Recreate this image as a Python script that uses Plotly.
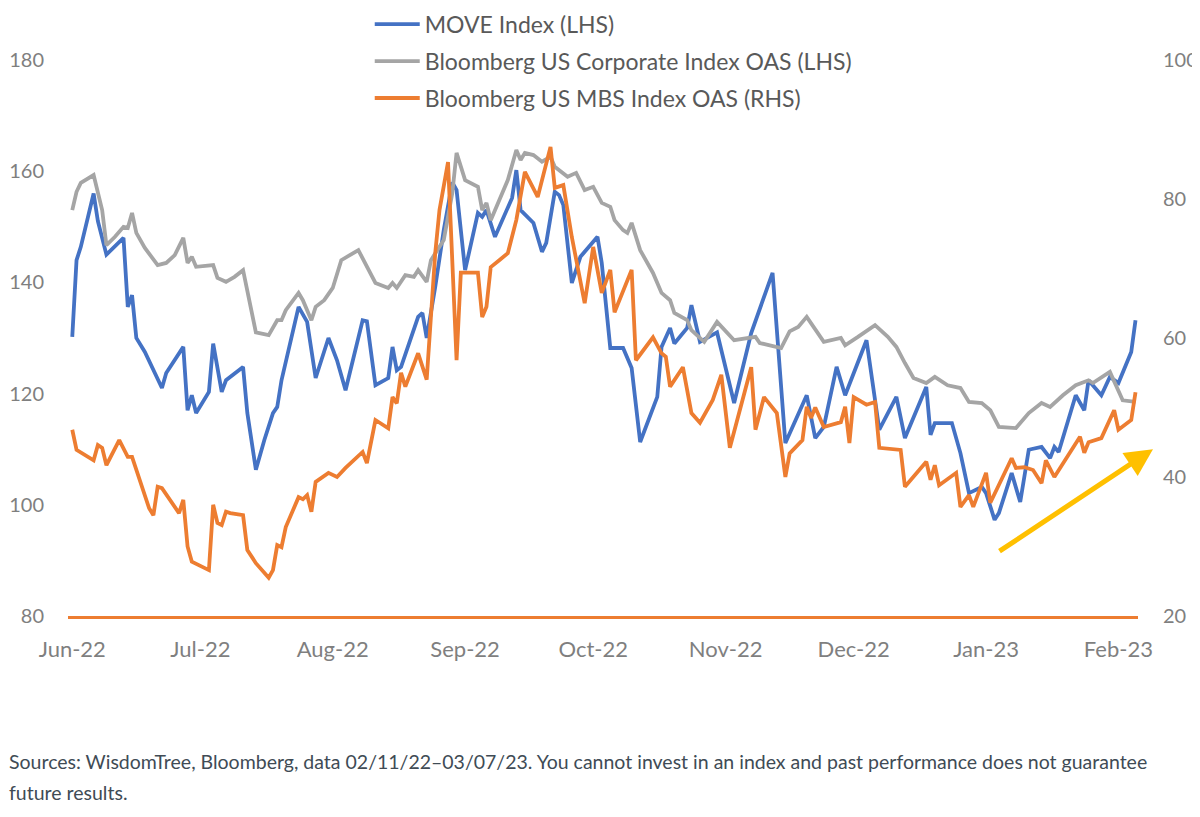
import plotly.graph_objects as go

move_dates = [
    "2022-06-01", "2022-06-02", "2022-06-03", "2022-06-06", "2022-06-07", "2022-06-09",
    "2022-06-13", "2022-06-14", "2022-06-15", "2022-06-16", "2022-06-18", "2022-06-22",
    "2022-06-23", "2022-06-27", "2022-06-28", "2022-06-29", "2022-06-30", "2022-07-03",
    "2022-07-04", "2022-07-06", "2022-07-07", "2022-07-11", "2022-07-12", "2022-07-14",
    "2022-07-16", "2022-07-18", "2022-07-19", "2022-07-20", "2022-07-24", "2022-07-26",
    "2022-07-28", "2022-07-31", "2022-08-02", "2022-08-04", "2022-08-08", "2022-08-09",
    "2022-08-11", "2022-08-14", "2022-08-15", "2022-08-16", "2022-08-17", "2022-08-21",
    "2022-08-22", "2022-08-23", "2022-08-25", "2022-08-27", "2022-08-29", "2022-08-30",
    "2022-09-01", "2022-09-04", "2022-09-05", "2022-09-06", "2022-09-08", "2022-09-12",
    "2022-09-13", "2022-09-14", "2022-09-17", "2022-09-19", "2022-09-20", "2022-09-22",
    "2022-09-23", "2022-09-24", "2022-09-26", "2022-09-28", "2022-10-02", "2022-10-03",
    "2022-10-05", "2022-10-08", "2022-10-10", "2022-10-12", "2022-10-16", "2022-10-17",
    "2022-10-19", "2022-10-20", "2022-10-23", "2022-10-24", "2022-10-26", "2022-10-30",
    "2022-11-03", "2022-11-07", "2022-11-12", "2022-11-15", "2022-11-20", "2022-11-22",
    "2022-11-24", "2022-11-27", "2022-11-29", "2022-12-04", "2022-12-07", "2022-12-11",
    "2022-12-13", "2022-12-18", "2022-12-19", "2022-12-20", "2022-12-24", "2022-12-26",
    "2022-12-28", "2022-12-31", "2023-01-01", "2023-01-03", "2023-01-04", "2023-01-07",
    "2023-01-09", "2023-01-11", "2023-01-14", "2023-01-16", "2023-01-17", "2023-01-18",
    "2023-01-22", "2023-01-24", "2023-01-25", "2023-01-28", "2023-01-30", "2023-02-01",
    "2023-02-04", "2023-02-05",
]
move_index = [
    130.2, 144.0, 146.4, 156.0, 151.0, 145.0,
    148.0, 135.6, 137.7, 130.0, 127.5, 121.0,
    123.7, 128.4, 117.0, 119.7, 116.5, 120.3,
    129.0, 120.3, 122.4, 124.8, 116.5, 106.3,
    111.7, 116.5, 117.6, 122.4, 135.6, 132.9,
    122.8, 130.0, 126.0, 120.6, 133.2, 133.0,
    121.5, 122.8, 128.4, 124.2, 124.8, 133.8,
    134.5, 130.0, 139.2, 149.4, 158.0, 156.6,
    142.2, 152.5, 151.8, 153.0, 148.2, 155.2,
    160.2, 153.0, 150.7, 145.5, 147.1, 156.3,
    155.7, 153.9, 139.9, 144.6, 148.2, 143.5,
    128.2, 128.2, 124.6, 111.3, 119.4, 128.4,
    131.8, 129.0, 131.8, 135.9, 129.3, 131.0,
    118.3, 130.9, 141.7, 111.1, 119.7, 112.0,
    114.0, 124.8, 119.7, 129.6, 113.5, 119.4,
    112.0, 121.2, 112.6, 114.7, 114.7, 109.3,
    102.1, 103.2, 102.1, 97.3, 98.5, 105.7,
    100.5, 109.9, 110.4, 108.4, 110.4, 109.5,
    119.7, 117.0, 122.4, 119.7, 123.0, 121.9,
    127.5, 133.2,
]

corp_dates = [
    "2022-06-01", "2022-06-02", "2022-06-03", "2022-06-06", "2022-06-08", "2022-06-09",
    "2022-06-11", "2022-06-13", "2022-06-14", "2022-06-15", "2022-06-16", "2022-06-18",
    "2022-06-21", "2022-06-23", "2022-06-25", "2022-06-27", "2022-06-28", "2022-06-29",
    "2022-06-30", "2022-07-04", "2022-07-05", "2022-07-07", "2022-07-09", "2022-07-11",
    "2022-07-14", "2022-07-17", "2022-07-19", "2022-07-20", "2022-07-21", "2022-07-24",
    "2022-07-25", "2022-07-27", "2022-07-28", "2022-07-30", "2022-08-01", "2022-08-03",
    "2022-08-05", "2022-08-07", "2022-08-11", "2022-08-14", "2022-08-15", "2022-08-16",
    "2022-08-18", "2022-08-20", "2022-08-21", "2022-08-23", "2022-08-24", "2022-08-27",
    "2022-08-29", "2022-08-30", "2022-09-01", "2022-09-04", "2022-09-05", "2022-09-06",
    "2022-09-07", "2022-09-09", "2022-09-11", "2022-09-13", "2022-09-14", "2022-09-15",
    "2022-09-17", "2022-09-19", "2022-09-21", "2022-09-22", "2022-09-25", "2022-09-27",
    "2022-09-29", "2022-10-01", "2022-10-03", "2022-10-05", "2022-10-06", "2022-10-08",
    "2022-10-09", "2022-10-10", "2022-10-12", "2022-10-15", "2022-10-17", "2022-10-19",
    "2022-10-20", "2022-10-23", "2022-10-24", "2022-10-27", "2022-10-30", "2022-11-03",
    "2022-11-08", "2022-11-09", "2022-11-14", "2022-11-16", "2022-11-18", "2022-11-20",
    "2022-11-24", "2022-11-28", "2022-11-29", "2022-12-02", "2022-12-06", "2022-12-09",
    "2022-12-11", "2022-12-13", "2022-12-15", "2022-12-18", "2022-12-20", "2022-12-23",
    "2022-12-26", "2022-12-28", "2022-12-31", "2023-01-02", "2023-01-04", "2023-01-08",
    "2023-01-11", "2023-01-14", "2023-01-16", "2023-01-19", "2023-01-22", "2023-01-25",
    "2023-01-26", "2023-01-30", "2023-02-01", "2023-02-02", "2023-02-05",
]
corp_oas = [
    153.0, 156.3, 157.9, 159.3, 153.0, 146.7,
    148.2, 150.0, 149.8, 152.5, 148.9, 146.2,
    143.1, 143.5, 144.9, 148.0, 143.5, 144.6,
    142.8, 143.1, 140.8, 140.1, 141.0, 142.2,
    131.0, 130.5, 133.2, 133.2, 135.0, 138.1,
    136.8, 133.2, 135.6, 136.8, 139.0, 144.0,
    144.9, 145.8, 139.9, 139.0, 139.9, 139.0,
    141.3, 141.0, 142.2, 140.1, 144.0, 147.6,
    156.1, 163.3, 158.4, 157.2, 153.0, 154.3,
    151.2, 154.8, 158.4, 163.8, 162.0, 163.3,
    162.9, 161.7, 162.6, 160.8, 159.0, 159.7,
    156.6, 157.2, 154.3, 153.6, 151.2, 149.4,
    148.9, 150.7, 145.8, 141.7, 138.1, 136.8,
    134.5, 133.2, 131.4, 129.3, 132.9, 129.6,
    130.2, 129.1, 128.2, 131.2, 132.0, 133.8,
    129.3, 130.0, 128.7, 130.2, 132.3, 130.2,
    128.4, 125.5, 122.8, 121.9, 123.0, 121.5,
    121.0, 118.5, 118.3, 117.0, 114.0, 113.8,
    116.5, 118.3, 117.6, 119.7, 121.5, 122.4,
    121.9, 123.9, 120.6, 118.8, 118.5,
]

mbs_dates = [
    "2022-06-01", "2022-06-02", "2022-06-06", "2022-06-07", "2022-06-08", "2022-06-09",
    "2022-06-12", "2022-06-14", "2022-06-15", "2022-06-19", "2022-06-20", "2022-06-21",
    "2022-06-22", "2022-06-24", "2022-06-26", "2022-06-27", "2022-06-28", "2022-06-29",
    "2022-07-03", "2022-07-04", "2022-07-05", "2022-07-06", "2022-07-07", "2022-07-08",
    "2022-07-11", "2022-07-12", "2022-07-14", "2022-07-17", "2022-07-18", "2022-07-19",
    "2022-07-20", "2022-07-21", "2022-07-24", "2022-07-25", "2022-07-26", "2022-07-27",
    "2022-07-28", "2022-07-31", "2022-08-02", "2022-08-04", "2022-08-08", "2022-08-09",
    "2022-08-11", "2022-08-14", "2022-08-15", "2022-08-16", "2022-08-17", "2022-08-18",
    "2022-08-21", "2022-08-23", "2022-08-25", "2022-08-26", "2022-08-28", "2022-08-30",
    "2022-08-31", "2022-09-04", "2022-09-05", "2022-09-06", "2022-09-07", "2022-09-09",
    "2022-09-11", "2022-09-13", "2022-09-15", "2022-09-18", "2022-09-21", "2022-09-22",
    "2022-09-24", "2022-09-26", "2022-09-29", "2022-10-01", "2022-10-03", "2022-10-05",
    "2022-10-06", "2022-10-10", "2022-10-11", "2022-10-15", "2022-10-17", "2022-10-18",
    "2022-10-19", "2022-10-22", "2022-10-24", "2022-10-26", "2022-10-29", "2022-10-31",
    "2022-11-02", "2022-11-07", "2022-11-08", "2022-11-10", "2022-11-13", "2022-11-15",
    "2022-11-16", "2022-11-19", "2022-11-20", "2022-11-21", "2022-11-22", "2022-11-24",
    "2022-11-28", "2022-11-29", "2022-11-30", "2022-12-01", "2022-12-04", "2022-12-06",
    "2022-12-07", "2022-12-12", "2022-12-13", "2022-12-18", "2022-12-19", "2022-12-20",
    "2022-12-21", "2022-12-25", "2022-12-26", "2022-12-28", "2022-12-29", "2023-01-01",
    "2023-01-02", "2023-01-07", "2023-01-08", "2023-01-10", "2023-01-12", "2023-01-14",
    "2023-01-15", "2023-01-17", "2023-01-23", "2023-01-24", "2023-01-25", "2023-01-28",
    "2023-01-31", "2023-02-01", "2023-02-04", "2023-02-05",
]
mbs_oas = [
    46.8, 43.9, 42.4, 44.6, 44.2, 41.7,
    45.3, 42.9, 42.9, 35.5, 34.5, 38.6,
    38.4, 36.7, 34.8, 36.7, 30.0, 27.8,
    26.6, 36.0, 33.4, 33.1, 35.0, 34.8,
    34.5, 29.5, 27.6, 25.5, 26.6, 30.2,
    29.9, 32.8, 37.1, 36.8, 37.4, 35.0,
    39.3, 40.6, 40.0, 41.3, 43.6, 42.0,
    48.2, 47.0, 51.5, 50.6, 55.0, 53.0,
    57.8, 54.0, 72.2, 78.4, 85.3, 56.8,
    69.4, 69.4, 63.0, 64.5, 70.2, 71.2,
    72.2, 77.0, 83.9, 80.3, 87.5, 81.6,
    82.0, 74.5, 65.0, 73.1, 66.5, 69.8,
    63.7, 69.8, 56.8, 60.1, 57.8, 57.3,
    53.0, 55.8, 49.2, 47.8, 51.1, 54.7,
    44.2, 55.8, 46.8, 51.5, 49.2, 40.0,
    43.4, 45.3, 50.1, 48.5, 50.0, 47.2,
    47.9, 50.1, 44.9, 51.5, 50.4, 50.8,
    44.2, 43.9, 38.6, 42.2, 39.6, 41.7,
    38.8, 40.6, 35.7, 37.4, 35.7, 40.6,
    36.3, 42.7, 41.3, 41.4, 41.0, 39.1,
    42.4, 40.0, 45.8, 43.5, 45.0, 45.6,
    49.6, 46.8, 48.2, 52.2,
]

month_ticks = ["2022-06-01", "2022-07-01", "2022-08-01", "2022-09-01", "2022-10-01",
               "2022-11-01", "2022-12-01", "2023-01-01", "2023-02-01"]
month_labels = ["Jun-22", "Jul-22", "Aug-22", "Sep-22", "Oct-22",
                "Nov-22", "Dec-22", "Jan-23", "Feb-23"]

BLUE = "#4472C4"
GREY = "#A5A5A5"
ORANGE = "#ED7D31"
FONT = "Lato"

fig = go.Figure()
fig.add_trace(go.Scatter(x=move_dates, y=move_index, mode="lines", name="MOVE Index (LHS)",
                         legendgroup="a", line=dict(color=BLUE, width=3.8)))
fig.add_trace(go.Scatter(x=corp_dates, y=corp_oas, mode="lines",
                         name="Bloomberg US Corporate Index OAS (LHS)",
                         legendgroup="b", line=dict(color=GREY, width=3.8)))
fig.add_trace(go.Scatter(x=mbs_dates, y=mbs_oas, mode="lines",
                         name="Bloomberg US MBS Index OAS (RHS)", yaxis="y2",
                         legendgroup="c", line=dict(color=ORANGE, width=3.8)))

tick_font = dict(family=FONT, size=20, color="#7F7F7F")

# the page body adds an 8px offset, so margins are shifted by that amount
fig.update_layout(
    width=1200,
    height=817,
    margin=dict(l=60, r=70, t=52, b=209, autoexpand=False),
    plot_bgcolor="white",
    paper_bgcolor="white",
    font=dict(family=FONT, size=19, color="#7F7F7F"),
    showlegend=True,
    legend=dict(x=0.282, y=1.103, xanchor="left", yanchor="top",
                font=dict(family=FONT, size=23, color="#595959"),
                tracegroupgap=4, itemwidth=45, bgcolor="rgba(0,0,0,0)"),
    xaxis=dict(type="date", range=["2022-05-31", "2023-02-05 14:00"],
               tickvals=month_ticks, ticktext=month_labels,
               tickfont=dict(family=FONT, size=22, color="#7F7F7F"),
               showgrid=False, zeroline=False, ticks="",
               showline=True, linecolor=ORANGE, linewidth=3,
               ticklabelstandoff=12),
    yaxis=dict(range=[80, 180], dtick=20, showgrid=False, zeroline=False,
               tickfont=tick_font, ticks="", showline=False, ticklabelstandoff=23),
    yaxis2=dict(range=[20, 100], dtick=20, overlaying="y", side="right",
                tickfont=tick_font, showgrid=False, zeroline=False, ticks="",
                showline=False, ticklabelstandoff=24),
    annotations=[
        dict(xref="paper", yref="paper", x=1.014, y=0.300, ax=-155, ay=103,
             text="", showarrow=True, arrowhead=2, arrowsize=1.1, arrowwidth=5,
             arrowcolor="#FFC000"),
        dict(xref="paper", yref="paper", x=-0.057, y=-0.238, xanchor="left", yanchor="top",
             text="Sources: WisdomTree, Bloomberg, data 02/11/22\u201303/07/23. You cannot invest "
                  "in an index and past performance does not guarantee",
             showarrow=False, font=dict(family=FONT, size=19.5, color="#404B55")),
        dict(xref="paper", yref="paper", x=-0.057, y=-0.294, xanchor="left", yanchor="top",
             text="future results.",
             showarrow=False, font=dict(family=FONT, size=19.5, color="#404B55")),
    ],
)

fig.write_html("out.html")
